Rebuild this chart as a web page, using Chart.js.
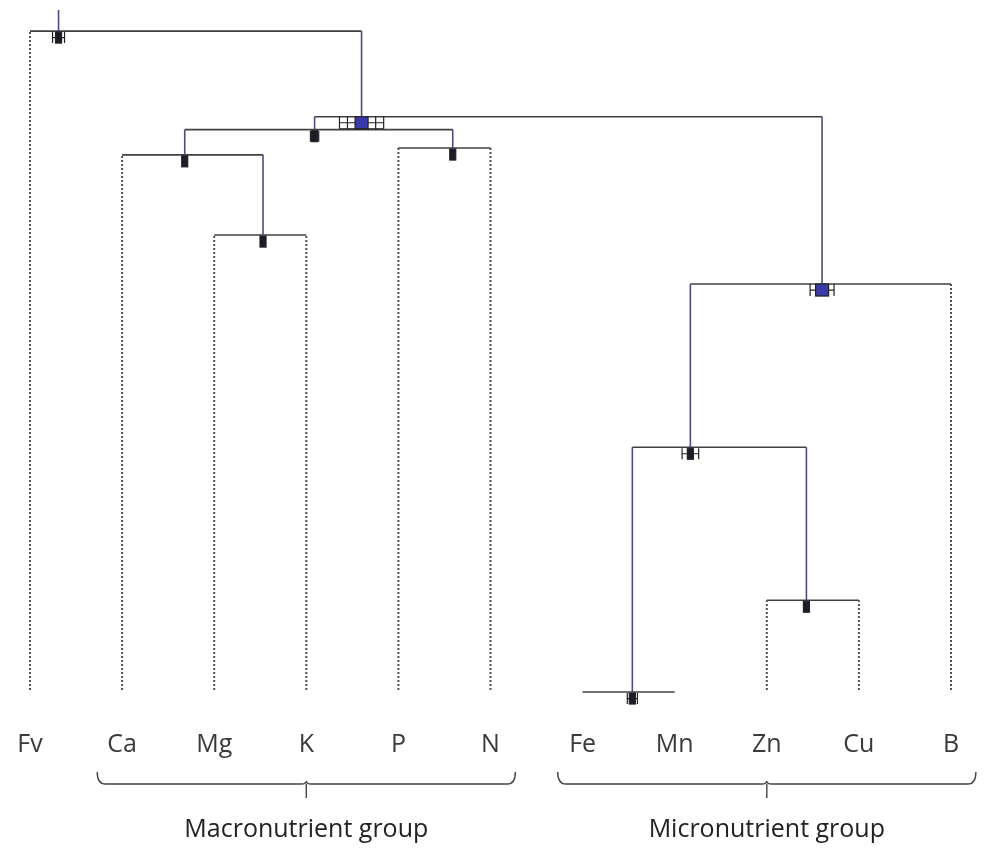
<!DOCTYPE html>
<html>
<head>
<meta charset="utf-8">
<script src="https://cdn.jsdelivr.net/npm/chart.js@4.4.1/dist/chart.umd.min.js"></script>
<style>
  html, body { margin: 0; padding: 0; background: #ffffff; }
  #wrap { width: 985px; height: 848px; position: relative; }
</style>
</head>
<body>
<div id="wrap"><canvas id="tree"></canvas></div>
<script>
// Leaves of the dendrogram, left to right
const leaves = ['Fv', 'Ca', 'Mg', 'K', 'P', 'N', 'Fe', 'Mn', 'Zn', 'Cu', 'B'];

// Merge nodes: the two children joined, joining height, stem position (in leaf units)
// and the half-width of the interval drawn around each node
const nodeIds     = ['n1', 'n2', 'n3', 'n4', 'n5', 'n6', 'n7', 'n8', 'n9', 'n10'];
const leftChild   = ['Mg', 'Ca', 'P',  'n2', 'Fe',  'Zn', 'n5', 'n7', 'n4', 'Fv'];
const rightChild  = ['K',  'n1', 'N',  'n3', 'Mn',  'Cu', 'n6', 'B',  'n8', 'n9'];
const mergeHeight = [6.69, 7.87, 7.97, 8.24, -0.03, 1.32, 3.57, 5.97, 8.43, 9.69];
const stemPos     = [2.53, 1.68, 4.59, 3.09, 6.54,  8.43, 7.17, 8.60, 3.60, 0.31];
const spread      = [0,    0,    0,    0.045, 0.055, 0.02, 0.09, 0.13, 0.24, 0.065];
const rootTop = 10;

// Leaf groups marked with braces under the labels
const groupNames = ['Macronutrient group', 'Micronutrient group'];
const groupFirst = ['Ca', 'Fe'];
const groupLast  = ['N', 'B'];

// ---- styles ----
const highlighted = new Set(['n8', 'n9']);
const HORIZ = '#404040';
const STEM = '#4c4c7c';
const DOTS = '#505050';
const FONT = "'Open Sans', 'Noto Sans', sans-serif";

// ---- geometry derived from the tree ----
const pos = {}, height = {}, parentOf = {};
leaves.forEach((l, i) => { pos[l] = i; height[l] = 0; });
nodeIds.forEach((id, k) => {
  pos[id] = stemPos[k];
  height[id] = mergeHeight[k];
  parentOf[leftChild[k]] = id;
  parentOf[rightChild[k]] = id;
});
const parentHeight = name => parentOf[name] ? height[parentOf[name]] : rootTop;

const datasets = [];
function seg(x1, y1, x2, y2, color, dash) {
  datasets.push({
    data: [{ x: x1, y: y1 }, { x: x2, y: y2 }],
    showLine: true,
    borderColor: color,
    borderWidth: dash ? 2 : 1.6,
    borderDash: dash || [],
    pointRadius: 0,
    pointHoverRadius: 0,
    fill: false
  });
}
// dotted leaf stems
leaves.forEach(l => {
  const top = parentHeight(l);
  if (top > 0) seg(pos[l], 0, pos[l], top, DOTS, [2, 2]);
});
// node stems and cross bars
nodeIds.forEach((id, k) => {
  seg(pos[id], height[id], pos[id], parentHeight(id), STEM);
  seg(pos[leftChild[k]], height[id], pos[rightChild[k]], height[id], HORIZ);
});

// interval markers at each merge node
const markerPlugin = {
  id: 'nodeMarkers',
  afterDatasetsDraw(chart) {
    const { ctx, scales: { x, y } } = chart;
    ctx.save();
    nodeIds.forEach((id, k) => {
      const cx = x.getPixelForValue(stemPos[k]);
      const top = y.getPixelForValue(mergeHeight[k]);
      const w = Math.abs(x.getPixelForValue(stemPos[k] + spread[k]) - cx);
      const hi = highlighted.has(id);
      const bw = hi ? 13 : 6;
      const bh = hi ? 12 : 11;
      const y0 = top + (hi ? 0 : 1);
      ctx.strokeStyle = '#222';
      ctx.lineWidth = 1.2;
      if (w > bw / 2) {
        const mid = y0 + bh / 2;
        ctx.beginPath();
        ctx.moveTo(cx - w, mid); ctx.lineTo(cx + w, mid);
        ctx.moveTo(cx - w, y0); ctx.lineTo(cx - w, y0 + bh);
        ctx.moveTo(cx + w, y0); ctx.lineTo(cx + w, y0 + bh);
        if (id === 'n9') {
          ctx.moveTo(cx - w, y0 + bh); ctx.lineTo(cx + w, y0 + bh);
          ctx.moveTo(cx - w + 8, y0); ctx.lineTo(cx - w + 8, y0 + bh);
          ctx.moveTo(cx + w - 8, y0); ctx.lineTo(cx + w - 8, y0 + bh);
        }
        ctx.stroke();
      }
      ctx.fillStyle = hi ? '#3a3aa8' : '#1c1c2a';
      ctx.fillRect(cx - bw / 2, y0, bw, bh);
      ctx.strokeRect(cx - bw / 2, y0, bw, bh);
    });
    ctx.restore();
  }
};

// braces and captions under the leaf labels
const groupPlugin = {
  id: 'groupBraces',
  afterDraw(chart) {
    const { ctx, scales: { x } } = chart;
    ctx.save();
    groupNames.forEach((name, g) => {
      const a = leaves.indexOf(groupFirst[g]);
      const b = leaves.indexOf(groupLast[g]);
      const x0 = x.getPixelForValue(a - 0.27);
      const x1 = x.getPixelForValue(b + 0.27);
      const xc = x.getPixelForValue((a + b) / 2);
      const yTop = 772, yBar = 784, yTip = 798;
      ctx.strokeStyle = '#444';
      ctx.lineWidth = 1.4;
      ctx.beginPath();
      ctx.moveTo(x0, yTop);
      ctx.quadraticCurveTo(x0, yBar, x0 + 8, yBar);
      ctx.lineTo(xc - 5, yBar);
      ctx.quadraticCurveTo(xc, yBar, xc, yBar - 3);
      ctx.quadraticCurveTo(xc, yBar, xc + 5, yBar);
      ctx.lineTo(x1 - 8, yBar);
      ctx.quadraticCurveTo(x1, yBar, x1, yTop);
      ctx.moveTo(xc, yBar);
      ctx.lineTo(xc, yTip);
      ctx.stroke();
      ctx.fillStyle = '#222';
      ctx.font = `25px ${FONT}`;
      ctx.textAlign = 'center';
      ctx.textBaseline = 'middle';
      ctx.fillText(name, xc, 830);
    });
    ctx.restore();
  }
};

new Chart(document.getElementById('tree'), {
  type: 'scatter',
  data: { datasets },
  plugins: [markerPlugin, groupPlugin],
  options: {
    responsive: true,
    maintainAspectRatio: false,
    animation: false,
    events: [],
    layout: { padding: 0 },
    plugins: { legend: { display: false }, tooltip: { enabled: false } },
    scales: {
      x: {
        type: 'linear',
        min: -0.3257,
        max: 10.369,
        grid: { display: false, drawTicks: false },
        border: { display: false },
        afterBuildTicks: s => { s.ticks = leaves.map((_, i) => ({ value: i })); },
        afterFit: s => { s.height = 120; },
        ticks: {
          padding: 2,
          autoSkip: false,
          maxRotation: 0,
          color: '#3a3a3a',
          font: { family: FONT, size: 25 },
          callback: v => leaves[v] ?? ''
        }
      },
      y: {
        type: 'linear',
        display: false,
        min: -0.559,
        max: 10.147
      }
    }
  }
});
</script>
</body>
</html>
